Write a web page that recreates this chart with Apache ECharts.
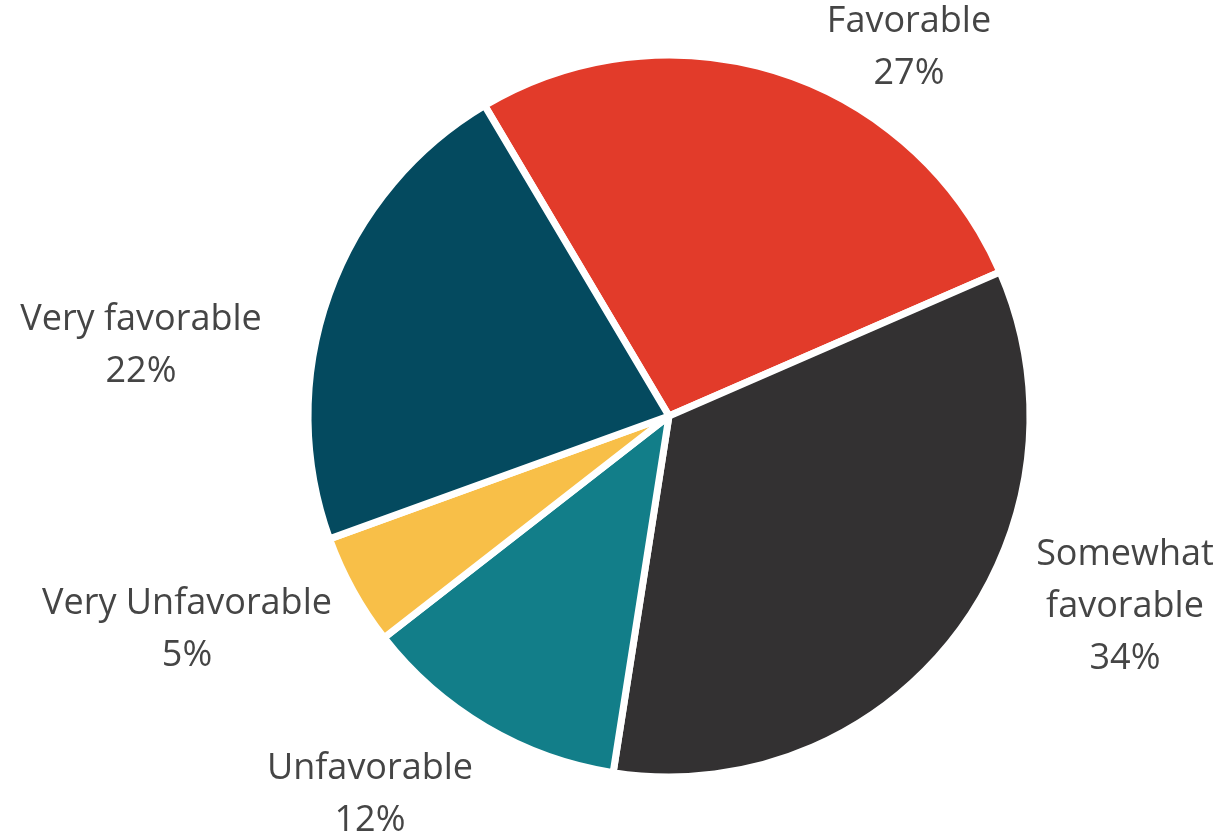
<!DOCTYPE html>
<html>
<head>
<meta charset="utf-8">
<script src="https://cdn.jsdelivr.net/npm/echarts@6/dist/echarts.min.js"></script>
<style>
  html, body { margin: 0; padding: 0; background: #ffffff; }
  #chart { width: 1225px; height: 836px; }
</style>
</head>
<body>
<div id="chart"></div>
<script>
// Survey responses, clockwise from the top
const categories = ['Favorable', 'Somewhat\nfavorable', 'Unfavorable', 'Very Unfavorable', 'Very favorable'];
const shares = [27, 34, 12, 5, 22];
const sliceColors = ['#E23B2A', '#333132', '#127E89', '#F8BF48', '#044A5F'];

// Label anchor points (centre of each text block), in pixels
const labelAnchors = [[909, 48], [1125, 607], [370, 795], [187, 630], [141, 346]];

const chart = echarts.init(document.getElementById('chart'), null, { renderer: 'canvas' });

chart.setOption({
  animation: false,
  backgroundColor: '#ffffff',
  series: [{
    type: 'pie',
    center: [669, 416],
    radius: [0, 361],
    startAngle: 120.7,
    clockwise: true,
    avoidLabelOverlap: false,
    data: categories.map((name, i) => ({
      name: name,
      value: shares[i],
      itemStyle: { color: sliceColors[i] }
    })),
    itemStyle: { borderColor: '#ffffff', borderWidth: 7 },
    label: {
      show: true,
      position: 'outside',
      formatter: p => p.name + '\n' + p.value + '%',
      fontFamily: '"Open Sans"',
      fontWeight: 400,
      fontSize: 36,
      lineHeight: 52,
      color: '#454545',
      align: 'center'
    },
    labelLine: { show: false },
    labelLayout: params => ({
      x: labelAnchors[params.dataIndex][0],
      y: labelAnchors[params.dataIndex][1],
      align: 'center',
      verticalAlign: 'middle'
    }),
    emphasis: { disabled: true }
  }]
});
</script>
</body>
</html>
